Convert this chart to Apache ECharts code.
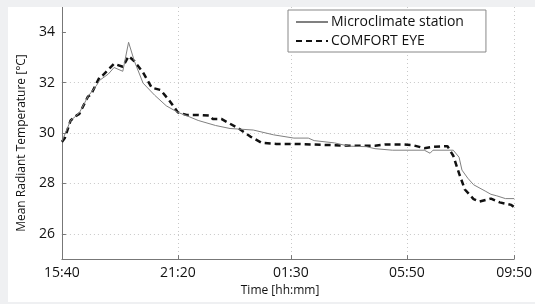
<!DOCTYPE html>
<html>
<head>
<meta charset="utf-8">
<script src="https://cdn.jsdelivr.net/npm/echarts@6/dist/echarts.min.js"></script>
<style>
html,body{margin:0;padding:0;background:#eff0f2;width:535px;height:304px;overflow:hidden;}
#c{position:absolute;left:8px;top:7px;width:527px;height:295px;background:#ffffff;}
</style>
</head>
<body>
<div id="c"></div>
<script>
// Sample index (x) positions and values
const stationX = [0,3,5,6,9,12,13,16,18,21,23,25,28,32,36,40,43,47,53,58,66,73,80,85,87,94,99,105,108,114,125,127,128,135,137,138,140,142,146,148,150,153,156];
const stationY = [29.67,30.5,30.69,30.8,31.45,31.9,32.09,32.34,32.6,32.45,33.6,32.85,31.98,31.5,31.08,30.82,30.69,30.5,30.3,30.18,30.12,29.93,29.8,29.8,29.7,29.61,29.48,29.46,29.38,29.32,29.32,29.2,29.32,29.32,29.04,28.53,28.21,27.95,27.7,27.57,27.51,27.4,27.4];
const eyeX = [0,1,3,5,6,9,10,13,14,18,21,23,25,28,31,34,37,40,43,47,51,52,55,61,65,69,74,80,99,108,112,117,121,125,128,133,135,137,139,142,144,148,151,155,156];
const eyeY = [29.65,29.8,30.5,30.69,30.76,31.45,31.52,32.22,32.28,32.75,32.63,33.05,32.85,32.4,31.8,31.71,31.3,30.82,30.72,30.72,30.69,30.56,30.56,30.18,29.86,29.61,29.57,29.57,29.5,29.5,29.55,29.55,29.52,29.4,29.45,29.48,29.1,28.4,27.76,27.38,27.28,27.4,27.25,27.15,27.06];
const xTickPos = [0,40,79,119,156];
const xTickLabels = ['15:40','21:20','01:30','05:50','09:50'];
const yTicks = [26,28,30,32,34];
const seriesNames = ['Microclimate station','COMFORT EYE'];

const pair = (xs, ys) => xs.map((x, i) => [x, ys[i]]);
const font = 'Open Sans';

const chart = echarts.init(document.getElementById('c'), null, {renderer: 'canvas'});
chart.setOption({
  animation: false,
  backgroundColor: '#ffffff',
  grid: {left: 42, right: 17, top: 0, bottom: 33, containLabel: false},
  legend: {
    orient: 'vertical',
    left: 280, top: 3,
    padding: [5, 22, 4, 7],
    itemWidth: 32, itemHeight: 14, itemGap: 5,
    backgroundColor: '#ffffff',
    borderColor: '#888888', borderWidth: 1,
    itemStyle: {opacity: 0},
    textStyle: {fontFamily: font, fontSize: 14, color: '#111', padding: [0,0,0,-2]},
    data: seriesNames
  },
  xAxis: {
    type: 'value', min: 0, max: 156,
    name: 'Time [hh:mm]', nameLocation: 'middle', nameGap: 22,
    nameTextStyle: {fontFamily: font, fontSize: 12, color: '#111', padding: [0,16,0,0]},
    axisLine: {lineStyle: {color: '#777', width: 1}},
    axisTick: {inside: true, length: 4, customValues: xTickPos, lineStyle: {color: '#777'}},
    axisLabel: {customValues: xTickPos, fontFamily: font, fontSize: 14, color: '#111', margin: 7,
      formatter: v => xTickLabels[xTickPos.indexOf(v)] || ''},
    splitLine: {show: true, showMinLine: false, lineStyle: {color: '#c8c8c8', type: [1, 3]}}
  },
  yAxis: {
    type: 'value', min: 25, max: 35,
    name: 'Mean Radiant Temperature [°C]', nameLocation: 'middle', nameGap: 30,
    nameTextStyle: {fontFamily: font, fontSize: 12, color: '#111', padding: [0,20,0,0]},
    axisLine: {show: true, lineStyle: {color: '#777', width: 1}},
    axisTick: {show: true, inside: true, length: 4, customValues: yTicks, lineStyle: {color: '#777'}},
    axisLabel: {customValues: yTicks, fontFamily: font, fontSize: 14, color: '#111', margin: 7},
    splitLine: {show: true, showMaxLine: false, lineStyle: {color: '#c8c8c8', type: [1, 3]}}
  },
  series: [
    {
      name: seriesNames[0], type: 'line', symbol: 'none',
      data: pair(stationX, stationY),
      lineStyle: {color: '#808080', width: 1},
      itemStyle: {color: '#808080'},
      z: 3
    },
    {
      name: seriesNames[1], type: 'line', symbol: 'none',
      data: pair(eyeX, eyeY),
      lineStyle: {color: '#111111', width: 2.5, type: [6, 4]},
      itemStyle: {color: '#111111'},
      z: 2
    }
  ]
});
</script>
</body>
</html>
